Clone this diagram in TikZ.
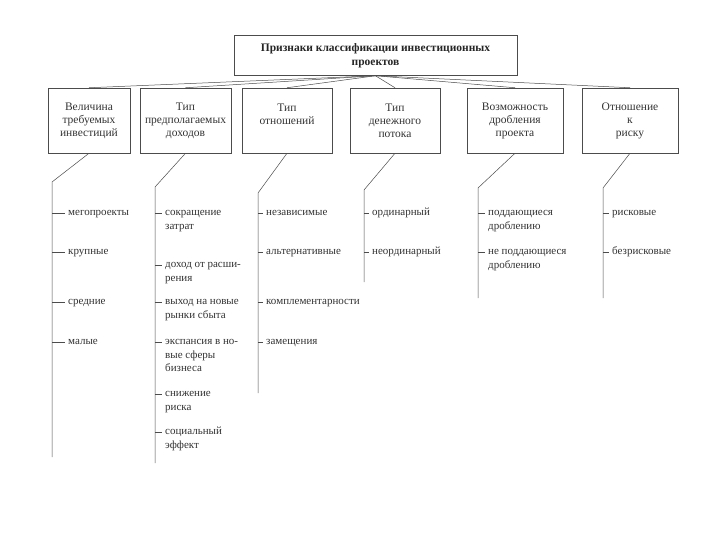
\documentclass[tikz,border=0pt]{standalone}
\usepackage{fontspec}
\setmainfont{Liberation Serif}

\begin{document}
\begin{tikzpicture}[x=1pt, y=-1pt,
    line/.style={black!70, line width=0.5pt},
    rootbox/.style={draw=black!70, line width=0.5pt, minimum width=283pt,
        minimum height=40pt, inner sep=0pt, align=center, text=black!85,
        font=\fontsize{11.5}{14}\selectfont\bfseries},
    catbox/.style={draw=black!70, line width=0.5pt, minimum height=65pt,
        inner sep=0pt, align=center, text=black!80,
        font=\fontsize{11.5}{13}\selectfont},
    item/.style={anchor=north west, inner sep=0pt, align=left, text=black!80,
        font=\fontsize{11}{13.5}\selectfont}
]

    % --- Page ---
    \useasboundingbox (0,0) rectangle (720,540);
    \fill[white] (0,0) rectangle (720,540);

    % --- Root box ---
    \node[rootbox] (root) at (375.5, 55.5)
        {Признаки классификации инвестиционных\\проектов};

    % --- Classification boxes ---
    \foreach \n/\cx/\w/\txt in {
        1/89/82/{Величина\\требуемых\\инвестиций},
        2/185.5/91/{Тип\\предполагаемых\\доходов},
        3/287/90/{Тип\\отношений\\~},
        4/395/90/{Тип\\денежного\\потока},
        5/515/96/{Возможность\\дробления\\проекта},
        6/630/96/{Отношение\\к\\риску}}
    {
        \node[catbox, minimum width=\w*1pt] (c\n) at (\cx, 120.5) {\txt};
        \draw[line] (root.south) -- (c\n.north);
    }

    % --- Branch lines below each box ---
    \foreach \n/\vx/\ty/\by in {1/52/182/457, 2/155/187/463, 3/258/193/393,
                                4/364/190/282, 5/478/188/298, 6/603/188/298}
    {
        \coordinate (v\n t) at (\vx, \ty);
        \coordinate (v\n b) at (\vx, \by);
        \draw[line] (c\n.south) -- (v\n t) -- (v\n b);
    }

    % --- Items of each branch (y = middle of the first line) ---
    \foreach \n/\tx/\list in {
        1/68/{213/мегопроекты, 252/крупные, 302/средние, 342/малые},
        2/165/{213/{сокращение\\затрат}, 265/{доход от расши-\\рения},
               302/{выход на новые\\рынки сбыта},
               342/{экспансия в но-\\вые сферы\\бизнеса},
               394/{снижение\\риска}, 432/{социальный\\эффект}},
        3/266/{213/независимые, 252/альтернативные,
               302/комплементарности, 342/замещения},
        4/372/{213/ординарный, 252/неординарный},
        5/488/{213/{поддающиеся\\дроблению}, 252/{не поддающиеся\\дроблению}},
        6/612/{213/рисковые, 252/безрисковые}}
    {
        \foreach \y/\txt [count=\i] in \list
        {
            \node[item] (i\n-\i) at (\tx, \y-7) {\strut\txt};
            \coordinate (t\n-\i) at ([xshift=-3pt, yshift=-7pt]i\n-\i.north west);
            \draw[line] (v\n t |- t\n-\i) -- (t\n-\i);
        }
    }

\end{tikzpicture}
\end{document}
